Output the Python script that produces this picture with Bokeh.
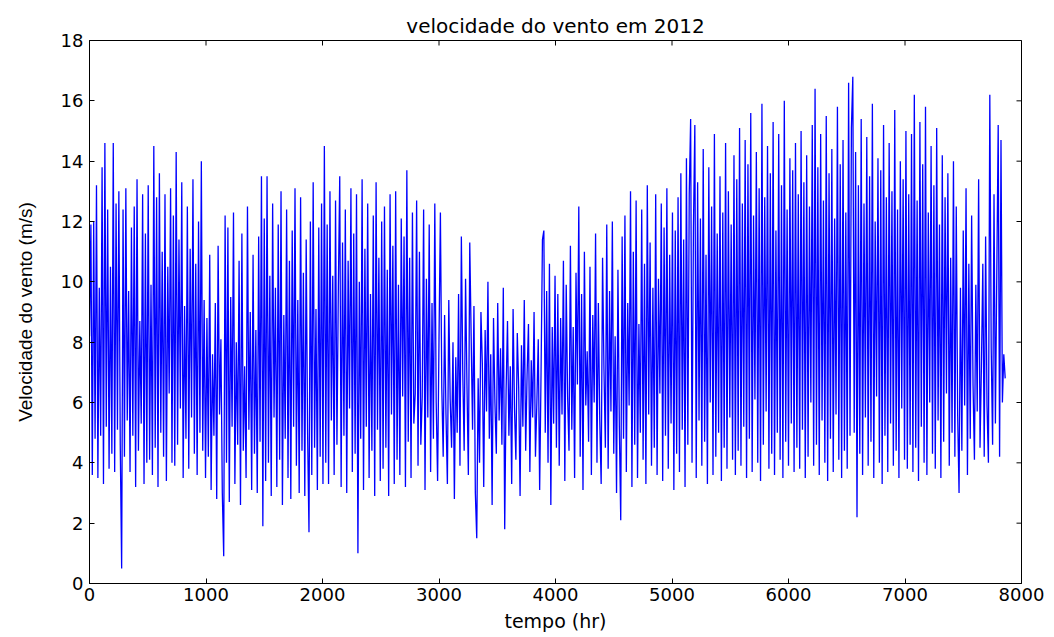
import math
from bokeh.plotting import figure
from bokeh.models import Range1d, FixedTicker
from bokeh.embed import file_html
from bokeh.resources import INLINE

# wind speed (m/s), read every ~12 h from the picture
c1 = [8.2, 11.9, 3.6, 12.0, 4.8, 13.2, 3.5, 9.8, 4.9, 13.8, 3.3, 14.6, 5.2, 12.4, 3.8, 10.5, 4.3, 14.6, 3.7, 12.6, 5.1, 13.0, 4.6, 0.5, 12.4, 4.2, 13.1, 5.4, 9.7, 3.7, 11.8, 4.9, 12.5, 3.2, 13.4, 4.4, 8.7, 5.3, 12.9, 3.3, 11.6, 4.0]
c2 = [13.2, 4.1, 9.9, 3.6, 14.5, 4.5, 12.8, 3.2, 13.6, 5.0, 11.0, 4.2, 12.9, 3.4, 10.5, 6.3, 13.1, 4.0, 12.2, 3.9, 14.3, 4.6, 11.4, 5.8, 13.3, 3.5, 9.2, 4.8, 12.5, 3.8, 11.1, 5.5, 13.4, 4.3, 10.6, 3.6, 12.0, 5.0, 14.0, 4.4, 9.4, 3.5]
c3 = [8.8, 4.2, 10.9, 3.1, 7.6, 4.9, 9.3, 2.8, 11.2, 5.6, 8.1, 3.0, 0.9, 12.2, 4.0, 11.8, 2.7, 9.5, 5.2, 12.3, 3.3, 8.0, 4.6, 10.7, 2.6, 11.6, 4.4, 7.2, 3.5, 12.5, 5.1, 9.0, 3.1, 10.9, 4.3, 8.4, 3.0, 11.5, 4.7, 13.5, 1.9, 12.1]
c4 = [3.4, 13.5, 4.0, 10.2, 2.9, 12.6, 5.5, 9.8, 3.2, 11.9, 4.1, 13.0, 2.6, 8.9, 4.8, 12.4, 3.5, 10.7, 2.8, 11.7, 5.2, 13.1, 3.9, 9.4, 3.0, 12.8, 4.4, 10.3, 2.9, 11.4, 5.0, 1.7, 12.0, 3.6, 13.3, 4.5, 9.1, 3.1, 11.8, 4.2, 12.6, 3.3]
c5 = [14.5, 4.0, 11.9, 3.3, 13.0, 5.4, 10.2, 3.6, 12.7, 4.6, 9.8, 13.5, 3.2, 11.3, 4.9, 12.4, 3.0, 10.7, 5.8, 13.1, 3.7, 11.6, 4.3, 12.9, 1.0, 10.0, 4.8, 13.4, 3.1, 11.1, 5.2, 12.6, 3.5, 9.6, 4.4, 12.2, 2.9, 13.3, 5.1, 10.8, 3.4, 12.0]
c6 = [3.8, 12.5, 4.5, 10.4, 2.9, 12.9, 5.6, 11.2, 3.3, 13.0, 4.1, 9.9, 3.6, 12.1, 6.2, 11.5, 3.2, 13.7, 4.7, 10.8, 3.5, 12.3, 5.3, 6.3, 12.7, 3.9, 11.0, 4.6, 6.2, 12.4, 3.1, 10.1, 5.5, 11.9, 3.7, 9.3, 4.8, 12.6, 6.0, 3.4, 8.1, 12.3]
c7 = [6.5, 4.2, 8.9, 5.6, 3.3, 9.4, 6.1, 4.5, 8.0, 2.8, 7.5, 5.0, 9.6, 3.9, 11.5, 7.0, 4.4, 10.1, 6.6, 3.6, 11.3, 8.2, 5.1, 9.2, 3.0, 1.5, 6.8, 4.0, 9.0, 7.3, 3.2, 8.4, 5.7, 10.0, 4.8, 7.6, 2.6, 8.8, 6.0, 4.3, 9.3, 5.4]
c8 = [7.8, 4.6, 9.8, 1.8, 6.4, 8.7, 4.9, 7.2, 3.3, 9.1, 5.8, 4.1, 8.3, 6.5, 2.9, 7.9, 5.2, 9.4, 4.4, 6.9, 8.6, 3.7, 7.4, 5.5, 9.0, 4.2, 6.0, 8.1, 3.1, 7.0, 11.4, 11.7, 5.0, 9.7, 4.0, 10.6, 2.6, 8.5, 5.3, 10.2, 4.5, 9.6]
c9 = [3.9, 8.8, 5.6, 10.7, 3.4, 9.9, 6.2, 4.4, 11.2, 5.1, 8.5, 3.5, 10.3, 6.6, 12.5, 4.2, 9.6, 3.1, 11.0, 5.9, 7.7, 4.7, 10.5, 3.6, 8.9, 6.0, 11.6, 4.0, 9.3, 5.4, 3.3, 10.8, 7.1, 4.5, 11.9, 3.8, 9.7, 5.7, 12.0, 4.3, 8.2, 3.0]
c10 = [10.4, 5.2, 2.1, 11.5, 4.8, 12.2, 3.7, 9.3, 5.9, 13.0, 3.2, 11.0, 4.6, 12.7, 3.5, 8.6, 5.0, 12.4, 4.1, 10.6, 3.3, 13.2, 5.6, 11.3, 3.9, 9.8, 4.5, 12.9, 3.6, 10.1, 6.3, 12.6, 3.4, 11.8, 4.9, 13.1, 3.8, 10.9, 5.3, 12.3, 3.1, 11.7]
c11 = [4.3, 12.8, 3.7, 13.6, 5.1, 11.4, 3.2, 14.1, 4.6, 12.9, 15.4, 4.0, 11.8, 15.2, 3.5, 13.3, 5.4, 12.1, 3.9, 14.4, 4.7, 10.9, 3.3, 13.8, 6.0, 12.5, 3.6, 14.9, 4.2, 11.6, 5.0, 13.5, 3.4, 12.3, 4.5, 14.6, 3.8, 13.0, 5.5, 11.9, 4.1, 14.2]
c12 = [3.6, 13.4, 4.4, 15.1, 3.9, 12.6, 5.2, 14.7, 3.5, 13.9, 4.8, 15.6, 3.7, 12.2, 6.1, 14.3, 4.0, 13.1, 3.4, 15.9, 4.6, 12.8, 5.7, 14.5, 3.8, 13.6, 4.3, 15.3, 3.6, 11.7, 5.0, 14.9, 4.1, 13.2, 3.5, 16.0, 4.7, 12.4, 3.9, 14.1, 5.3, 13.7]
c13 = [3.7, 14.6, 4.5, 12.9, 3.8, 15.0, 5.1, 13.3, 3.5, 14.2, 4.2, 12.5, 6.0, 15.2, 3.9, 16.4, 4.6, 13.8, 3.6, 14.9, 5.4, 12.7, 4.0, 15.5, 3.4, 13.6, 4.8, 14.4, 3.7, 12.1, 5.6, 15.8, 4.1, 13.9, 3.5, 14.7, 4.4, 12.3, 3.8, 16.6, 4.9, 15.1]
c14 = [16.8, 5.0, 14.3, 2.2, 13.2, 4.3, 15.4, 3.6, 12.6, 5.5, 14.8, 3.9, 13.5, 4.7, 15.9, 3.5, 12.0, 6.2, 14.1, 4.0, 13.7, 3.3, 15.2, 4.9, 12.8, 3.7, 14.6, 5.3, 13.0, 3.9, 15.7, 4.4, 12.4, 3.5, 14.0, 5.8, 13.4, 4.1, 15.0, 3.8, 12.9, 4.6]
c15 = [14.9, 3.7, 16.2, 4.5, 12.7, 3.4, 15.3, 5.2, 13.9, 4.0, 15.8, 3.6, 12.3, 6.0, 14.5, 4.3, 13.2, 3.8, 15.1, 5.4, 11.9, 3.5, 14.2, 4.7, 12.8, 6.3, 13.6, 3.9, 10.8, 5.0, 14.0, 4.2, 12.5, 5.6, 3.0, 9.8, 4.4, 11.7, 5.9, 13.1, 3.6, 10.6]
c16 = [4.8, 12.2, 6.6, 4.1, 9.9, 5.7, 13.4, 4.5, 7.2, 10.6, 4.2, 11.5, 5.9, 4.0, 16.2, 7.8, 4.6, 12.9, 5.3, 10.3, 15.2, 4.2, 14.7, 6.0, 7.6, 6.8]

speed = c1 + c2 + c3 + c4 + c5 + c6 + c7 + c8 + c9 + c10 + c11 + c12 + c13 + c14 + c15 + c16
step_hr = 12
hours = [i * step_hr for i in range(len(speed))]

x_ticks = [0, 1000, 2000, 3000, 4000, 5000, 6000, 7000, 8000]
y_ticks = [0, 2, 4, 6, 8, 10, 12, 14, 16, 18]
x_max, y_max = 8000, 18

FONT = "DejaVu Sans"

p = figure(width=1054, height=637, output_backend="svg", toolbar_location=None,
           x_range=Range1d(0, x_max), y_range=Range1d(0, y_max),
           title="velocidade do vento em 2012",
           min_border_left=89, min_border_right=33, min_border_top=40, min_border_bottom=54)

p.line(hours, speed, line_color="#0000ff", line_width=1.3)

# inward ticks on top and right edges (MATLAB box style), clipped by the frame
p.scatter(x_ticks, [y_max] * len(x_ticks), marker="dash", angle=math.pi / 2, size=10,
          line_color="black", line_width=1)
p.scatter([x_max] * len(y_ticks), y_ticks, marker="dash", size=10,
          line_color="black", line_width=1)

p.title.align = "center"
p.title.text_font = FONT
p.title.text_font_size = "20px"
p.title.text_font_style = "normal"
p.title.text_color = "black"
p.title.offset = 0
p.title.standoff = 6

p.xgrid.visible = False
p.ygrid.visible = False
p.outline_line_color = "black"
p.outline_line_width = 1

for ax in [p.xaxis[0], p.yaxis[0]]:
    ax.major_tick_in = 5
    ax.major_tick_out = 0
    ax.minor_tick_in = 0
    ax.minor_tick_out = 0
    ax.major_label_text_font = FONT
    ax.major_label_text_font_size = "18px"
    ax.major_label_text_color = "black"
    ax.axis_label_text_font = FONT
    ax.axis_label_text_font_style = "normal"
    ax.axis_label_text_color = "black"
    ax.axis_line_color = "black"
    ax.major_tick_line_color = "black"

p.xaxis[0].ticker = FixedTicker(ticks=x_ticks)
p.yaxis[0].ticker = FixedTicker(ticks=y_ticks)
p.xaxis[0].axis_label = "tempo (hr)"
p.yaxis[0].axis_label = "Velocidade do vento (m/s)"
p.xaxis[0].axis_label_text_font_size = "19px"
p.yaxis[0].axis_label_text_font = "Liberation Sans"
p.yaxis[0].axis_label_text_font_size = "19px"
p.xaxis[0].major_label_standoff = 4
p.yaxis[0].major_label_standoff = 6
p.xaxis[0].axis_label_standoff = 6
p.yaxis[0].axis_label_standoff = 22

open("out.html", "w").write(file_html(p, INLINE))
